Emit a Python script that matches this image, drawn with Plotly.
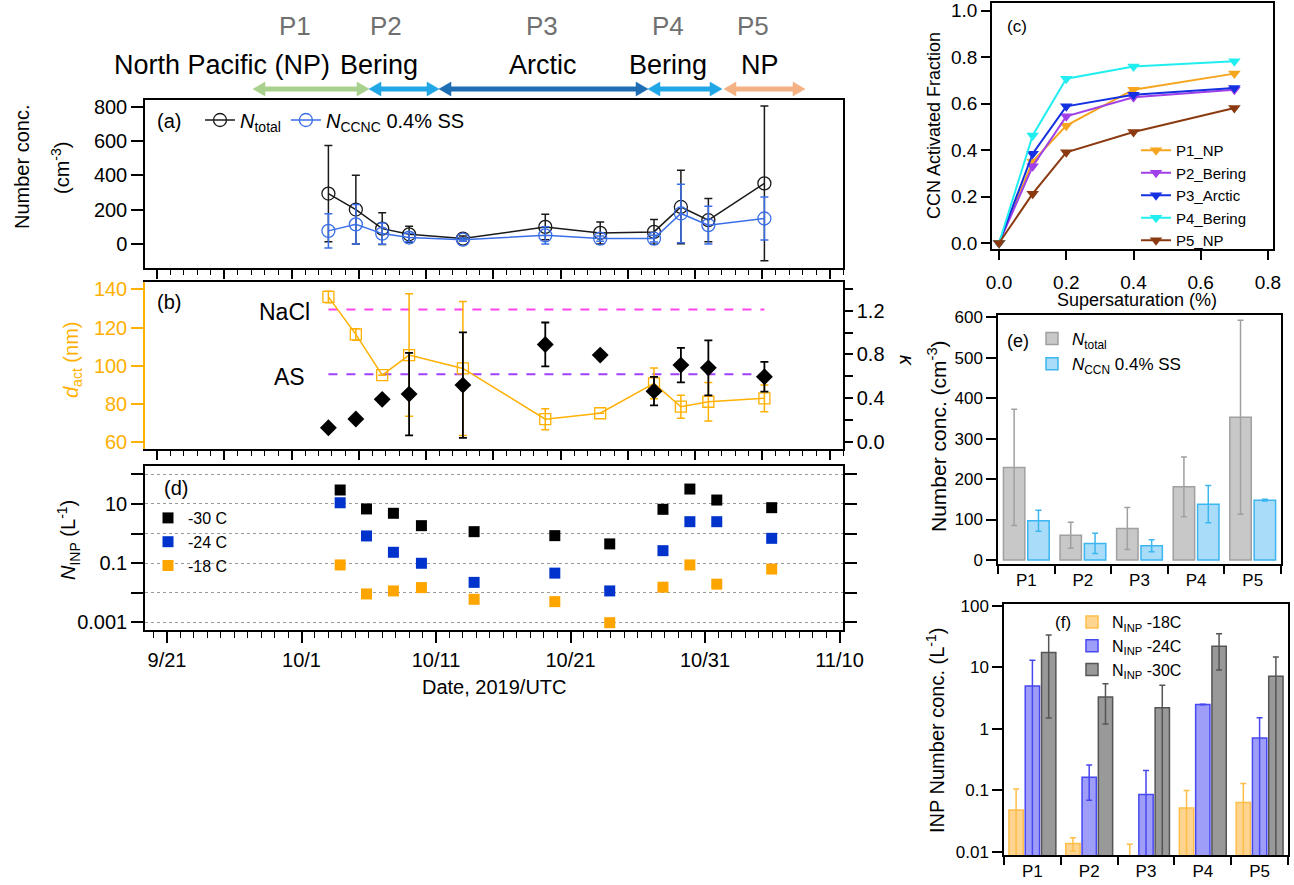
import plotly.graph_objects as go
import pandas as pd

# ---------------- data ----------------
# panels (a) and (b): sampling dates
dates_ab = ["2019-10-03 00:00", "2019-10-05 01:00", "2019-10-07 00:00", "2019-10-09 00:00",
            "2019-10-13 00:00", "2019-10-19 03:00", "2019-10-23 05:00", "2019-10-27 05:00",
            "2019-10-29 05:00", "2019-10-31 06:00", "2019-11-04 10:00"]
n_total = [295, 202, 91, 58, 33, 101, 66, 72, 217, 140, 354]
n_total_err = [280, 200, 92, 47, 15, 74, 64, 72, 214, 126, 450]
n_ccnc = [78, 116, 62, 39, 27, 52, 33, 33, 179, 111, 150]
n_ccnc_err = [100, 115, 62, 25, 10, 50, 15, 20, 170, 110, 125]

d_act = [136.0, 116.4, 95.1, 105.6, 98.6, 72.1, 75.2, 90.8, 78.6, 81.2, 83.0]
d_act_err = [3, 3, None, 32, 35, 5.5, None, 8, 6, 10, 7]
kappa = [0.133, 0.212, 0.391, 0.439, 0.521, 0.891, 0.794, 0.466, 0.703, 0.678, 0.597]
kappa_err = [None, None, None, 0.375, 0.48, 0.2, None, 0.13, 0.157, 0.25, 0.135]
ref_labels = ["NaCl", "AS"]
ref_dact = [129.4, 95.6]

# panel (d)
dates_inp = ["2019-10-03 21:00", "2019-10-05 20:00", "2019-10-07 20:00", "2019-10-09 22:00",
             "2019-10-13 20:00", "2019-10-19 20:00", "2019-10-23 22:00", "2019-10-27 21:00",
             "2019-10-29 21:00", "2019-10-31 21:00", "2019-11-04 23:00"]
inp_m30 = [29.7, 6.8, 4.85, 1.85, 1.16, 0.85, 0.447, 6.6, 32, 13.6, 7.5]
inp_m24 = [11, 0.83, 0.233, 0.099, 0.0224, 0.046, 0.0115, 0.264, 2.52, 2.52, 0.69]
inp_m18 = [0.087, 0.0091, 0.0115, 0.0149, 0.006, 0.005, 0.00097, 0.0154, 0.087, 0.0195, 0.063]
date_tick_labels = ["9/21", "10/1", "10/11", "10/21", "10/31", "11/10"]
inp_tick_labels = ["0.001", "0.1", "10"]

# panel (c)
supersat = [0, 0.1, 0.2, 0.4, 0.7]
ccn_names = ["P1_NP", "P2_Bering", "P3_Arctic", "P4_Bering", "P5_NP"]
ccn_p1 = [0, 0.35, 0.505, 0.66, 0.729]
ccn_p2 = [0, 0.33, 0.545, 0.627, 0.66]
ccn_p3 = [0, 0.384, 0.588, 0.638, 0.667]
ccn_p4 = [0, 0.463, 0.707, 0.76, 0.782]
ccn_p5 = [0, 0.212, 0.39, 0.478, 0.581]

# panel (e)
periods = ["P1", "P2", "P3", "P4", "P5"]
ntot_mean = [229, 61, 78, 181, 353]
ntot_sd = [144, 32, 52, 74, 240]
nccn_mean = [97, 41, 35, 138, 148]
nccn_sd = [26, 25, 15, 46, 2]

# panel (f)
inp18_mean = [0.048, 0.0137, 0.008, 0.052, 0.0635]
inp18_sd = [0.057, 0.0033, 0.0053, 0.048, 0.0665]
inp24_mean = [5.0, 0.164, 0.086, 2.49, 0.71]
inp24_sd = [8.0, 0.095, 0.125, 0.03, 0.8]
inp30_mean = [17.5, 3.3, 2.2, 22.1, 7.2]
inp30_sd = [16, 2.1, 2.9, 13, 7.5]

# header
period_labels = ["P1", "P2", "P3", "P4", "P5"]
region_labels = ["North Pacific (NP)", "Bering", "Arctic", "Bering", "NP"]

# ---------------- layout helpers ----------------
W, H = 1294, 885
def fx(p):
    return p / W
def fy(p):
    return 1 - p / H

FONT = "Liberation Sans, Arial, sans-serif"
ORANGE = "#FFB000"

t0 = pd.Timestamp("2019-09-21")
DAY_PX = 13.45
x_left = t0 + pd.Timedelta(days=(145 - 167) / DAY_PX)
x_right = t0 + pd.Timedelta(days=(843 - 167) / DAY_PX)
xr = [x_left.strftime("%Y-%m-%d %H:%M:%S"), x_right.strftime("%Y-%m-%d %H:%M:%S")]
tick0_ab = (t0 - pd.Timedelta(days=0.74)).strftime("%Y-%m-%d %H:%M:%S")
DAY_MS = 86400000

fig = go.Figure()

# ---------------- (a) ----------------
fig.add_trace(go.Scatter(
    x=dates_ab, y=n_total, mode="lines+markers", name="<i>N</i><sub>total</sub>",
    line=dict(color="#1a1a1a", width=1.5),
    marker=dict(symbol="circle-open", size=13, color="#1a1a1a", line=dict(width=1.3)),
    error_y=dict(type="data", array=n_total_err, color="#1a1a1a", thickness=1.5, width=4),
    xaxis="x", yaxis="y", legend="legend"))
fig.add_trace(go.Scatter(
    x=dates_ab, y=n_ccnc, mode="lines+markers", name="<i>N</i><sub>CCNC</sub> 0.4% SS",
    line=dict(color="#3a6ee8", width=1.5),
    marker=dict(symbol="circle-open", size=13, color="#3a6ee8", line=dict(width=1.3)),
    error_y=dict(type="data", array=n_ccnc_err, color="#3a6ee8", thickness=1.5, width=4),
    xaxis="x", yaxis="y", legend="legend"))

# ---------------- (b) ----------------
ref_colors = ["#FF44EE", "#A040FF"]
for lab, val, col in zip(ref_labels, ref_dact, ref_colors):
    fig.add_trace(go.Scatter(
        x=[dates_ab[0], dates_ab[-1]], y=[val, val], mode="lines",
        line=dict(color=col, width=2, dash="dash"), showlegend=False,
        xaxis="x2", yaxis="y2"))
fig.add_trace(go.Scatter(
    x=dates_ab, y=d_act, mode="lines+markers", showlegend=False,
    line=dict(color=ORANGE, width=1.5),
    marker=dict(symbol="square-open", size=11, color=ORANGE, line=dict(width=1.3)),
    error_y=dict(type="data", array=d_act_err, color=ORANGE, thickness=1.5, width=4),
    xaxis="x2", yaxis="y2"))
fig.add_trace(go.Scatter(
    x=dates_ab, y=kappa, mode="markers", showlegend=False,
    marker=dict(symbol="diamond", size=13, color="black"),
    error_y=dict(type="data", array=kappa_err, color="black", thickness=1.8, width=4),
    xaxis="x2", yaxis="y3"))

# ---------------- (d) ----------------
for name, vals, col in [("-30 C", inp_m30, "#000000"), ("-24 C", inp_m24, "#0033CC"),
                        ("-18 C", inp_m18, "#FFA500")]:
    fig.add_trace(go.Scatter(
        x=dates_inp, y=vals, mode="markers", name=name,
        marker=dict(symbol="square", size=11, color=col),
        xaxis="x3", yaxis="y4", legend="legend3"))

# ---------------- (c) ----------------
ccn_colors = ["#F5A51E", "#A040E8", "#1530E0", "#22EEF0", "#8B3A10"]
for name, vals, col in zip(ccn_names, [ccn_p1, ccn_p2, ccn_p3, ccn_p4, ccn_p5], ccn_colors):
    fig.add_trace(go.Scatter(
        x=supersat, y=vals, mode="lines+markers", name=name,
        line=dict(color=col, width=2),
        marker=dict(symbol="triangle-down", size=11, color=col),
        xaxis="x4", yaxis="y5", legend="legend2"))

# ---------------- (e) ----------------
fig.add_trace(go.Bar(
    x=periods, y=ntot_mean, name="<i>N</i><sub>total</sub>",
    marker=dict(color="#C8C8C8", line=dict(color="#A0A0A0", width=1.5)),
    error_y=dict(type="data", array=ntot_sd, color="#A0A0A0", thickness=1.5, width=3),
    xaxis="x5", yaxis="y6", legend="legend4"))
fig.add_trace(go.Bar(
    x=periods, y=nccn_mean, name="<i>N</i><sub>CCN</sub> 0.4% SS",
    marker=dict(color="#A8DCF8", line=dict(color="#3CB6F0", width=1.5)),
    error_y=dict(type="data", array=nccn_sd, color="#3CB6F0", thickness=1.5, width=3),
    xaxis="x5", yaxis="y6", legend="legend4"))

# ---------------- (f) ----------------
for name, vals, err, fill, edge in [
        ("N<sub>INP</sub> -18C", inp18_mean, inp18_sd, "#FDD590", "#FFBE4A"),
        ("N<sub>INP</sub> -24C", inp24_mean, inp24_sd, "#9E9EF8", "#4848F0"),
        ("N<sub>INP</sub> -30C", inp30_mean, inp30_sd, "#999999", "#555555")]:
    fig.add_trace(go.Bar(
        x=periods, y=vals, name=name,
        marker=dict(color=fill, line=dict(color=edge, width=1.5)),
        error_y=dict(type="data", array=err, color=edge, thickness=1.5, width=3),
        xaxis="x6", yaxis="y7", legend="legend5"))

# ---------------- axes ----------------
base = dict(showline=True, linecolor="black", linewidth=1.5, ticks="outside",
            tickcolor="black", tickwidth=1.5, showgrid=False, zeroline=False,
            tickfont=dict(size=20, color="black", family=FONT))
left_dom = [fx(145), fx(843)]

def date_ab(anchor):
    d = dict(base)
    d.update(domain=left_dom, anchor=anchor, type="date", range=xr, showticklabels=False,
             tick0=tick0_ab, dtick=5 * DAY_MS, ticklen=9, mirror=True,
             minor=dict(ticks="outside", ticklen=5, dtick=DAY_MS, tick0=tick0_ab,
                        tickcolor="black", tickwidth=1.2))
    return d

xa = date_ab("y")
ya = dict(base)
ya.update(domain=[fy(268), fy(100)], anchor="x", range=[-138, 839],
          tickvals=[0, 200, 400, 600, 800], ticklen=12, mirror=True)

xb = date_ab("y2")
yb = dict(base)
yb.update(domain=[fy(449), fy(282)], anchor="x2", range=[56.5, 143.8],
          tickvals=[60, 80, 100, 120, 140], ticklen=12, linecolor=ORANGE, tickcolor=ORANGE,
          tickfont=dict(size=20, color=ORANGE, family=FONT))
yk = dict(base)
yk.update(overlaying="y2", side="right", anchor="x2", range=[-0.061, 1.46],
          tickvals=[0, 0.4, 0.8, 1.2], tickformat=".1f", ticklen=8,
          minor=dict(tickmode="array", tickvals=[0.2, 0.6, 1.0, 1.4], ticks="outside",
                     ticklen=8, tickcolor="black", tickwidth=1.5))

xd = dict(base)
date_tick_vals = [(t0 + pd.Timedelta(days=10 * i)).strftime("%Y-%m-%d") for i in range(len(date_tick_labels))]
xd.update(domain=left_dom, anchor="y4", type="date", range=xr, tickmode="array",
          tickvals=date_tick_vals, ticktext=date_tick_labels, ticklen=11, mirror=True,
          minor=dict(ticks="outside", ticklen=6, dtick=DAY_MS, tick0="2019-09-21",
                     tickcolor="black", tickwidth=1.2))
yd = dict(base)
yd.update(domain=[fy(630), fy(466)], anchor="x3", type="log", range=[-3.26, 2.284],
          tickmode="array", tickvals=[0.001, 0.1, 10], ticktext=inp_tick_labels,
          ticklen=12, mirror="ticks",
          showgrid=True, griddash="dot", gridcolor="#9a9a9a", gridwidth=1,
          minor=dict(tickmode="array", tickvals=[0.01, 1, 100], ticks="outside", ticklen=12,
                     tickcolor="black", tickwidth=1.5, showgrid=True, griddash="dot",
                     gridcolor="#9a9a9a", gridwidth=1))

right_font = dict(size=19, color="black", family=FONT)
xc = dict(base)
xc.update(domain=[fx(992), fx(1273)], anchor="y5", range=[-0.021, 0.815],
          tickvals=[0, 0.2, 0.4, 0.6, 0.8], tickformat=".1f", ticklen=9, mirror=True,
          tickfont=right_font, ticklabelstandoff=6)
yc = dict(base)
yc.update(domain=[fy(249), fy(3)], anchor="x4", range=[-0.026, 1.033],
          tickvals=[0, 0.2, 0.4, 0.6, 0.8, 1.0], tickformat=".1f", ticklen=9, mirror=True,
          tickfont=right_font)

small_font = dict(size=17, color="black", family=FONT)
xe = dict(base)
xe.update(domain=[fx(998), fx(1281)], anchor="y6", type="category", tickson="boundaries",
          ticklen=8, mirror=True, tickfont=small_font)
ye = dict(base)
ye.update(domain=[fy(564), fy(315)], anchor="x5", range=[-10, 606], dtick=100,
          ticklen=10, mirror=True, tickfont=small_font)

xf = dict(base)
xf.update(domain=[fx(1004), fx(1288)], anchor="y7", type="category", tickson="boundaries",
          ticklen=8, mirror=True, tickfont=small_font)
yf = dict(base)
yf.update(domain=[fy(855), fy(604)], anchor="x6", type="log", range=[-2.05, 2.03],
          tickmode="array", tickvals=[0.01, 0.1, 1, 10, 100],
          ticktext=["0.01", "0.1", "1", "10", "100"], ticklen=10, mirror=True,
          tickfont=small_font)

def leg(x, y, size, orient="v", xanchor="left", yanchor="top"):
    return dict(x=fx(x), y=fy(y), xanchor=xanchor, yanchor=yanchor, orientation=orient,
                bgcolor="rgba(0,0,0,0)", borderwidth=0,
                font=dict(size=size, color="black", family=FONT))

fig.update_layout(
    width=W, height=H, margin=dict(l=0, r=0, t=0, b=0, autoexpand=False),
    paper_bgcolor="white", plot_bgcolor="white",
    font=dict(family=FONT, color="black"),
    barmode="group", bargap=0.14, bargroupgap=0.12,
    xaxis=xa, yaxis=ya, xaxis2=xb, yaxis2=yb, yaxis3=yk,
    xaxis3=xd, yaxis4=yd, xaxis4=xc, yaxis5=yc, xaxis5=xe, yaxis6=ye,
    xaxis6=xf, yaxis7=yf,
    legend=leg(200, 120, 20, orient="h", yanchor="middle"),
    legend2=leg(1136, 134, 15),
    legend3=leg(148, 501, 16),
    legend4=leg(1032, 321, 17),
    legend5=leg(1072, 605, 16),
)

# ---------------- annotations ----------------
def txt(x, y, s, size=20, color="black", angle=0, xanchor="center"):
    fig.add_annotation(xref="paper", yref="paper", x=fx(x), y=fy(y), text=s,
                       showarrow=False, xanchor=xanchor, yanchor="middle", textangle=angle,
                       font=dict(size=size, color=color, family=FONT))

# header
for lab, xc_ in zip(period_labels, [295, 386, 542, 668, 753]):
    txt(xc_, 26, lab, size=26, color="#707070")
for lab, xc_ in zip(region_labels, [222, 379, 543, 668, 760]):
    txt(xc_, 65, lab, size=27)

# header double arrows drawn as shapes
arrows = [(253, 369, "#A9D18E"), (369, 439, "#22A7E6"), (439, 648, "#1F6EB4"),
          (648, 722, "#22A7E6"), (724, 805, "#F4B183")]
AY, HL, HW = 89, 12, 7
for x0, x1, col in arrows:
    fig.add_shape(type="line", xref="paper", yref="paper",
                  x0=fx(x0 + HL - 1), x1=fx(x1 - HL + 1), y0=fy(AY), y1=fy(AY),
                  line=dict(color=col, width=5))
    for tip, back in [(x1, x1 - HL), (x0, x0 + HL)]:
        path = "M {:.5f} {:.5f} L {:.5f} {:.5f} L {:.5f} {:.5f} Z".format(
            fx(tip), fy(AY), fx(back), fy(AY - HW), fx(back), fy(AY + HW))
        fig.add_shape(type="path", xref="paper", yref="paper", path=path,
                      fillcolor=col, line=dict(color=col, width=0.5))

# panel labels
txt(169, 121, "(a)", size=20)
txt(169, 302, "(b)", size=20)
txt(176, 488, "(d)", size=20)
txt(1017, 27, "(c)", size=17)
txt(1018, 341, "(e)", size=18)
txt(1063, 622, "(f)", size=17)

# NaCl / AS labels
txt(284, 312, ref_labels[0], size=23)
txt(289, 377, ref_labels[1], size=23)

# axis titles
txt(22, 167, "Number conc.", size=20, angle=-90)
txt(60, 168, "(cm<sup>-3</sup>)", size=20, angle=-90)
txt(72, 360, "<i>d</i><sub>act</sub> (nm)", size=20, color=ORANGE, angle=-90)
txt(907, 360, "<i>κ</i>", size=20, angle=90)
txt(68, 540, "<i>N</i><sub>INP</sub> (L<sup>-1</sup>)", size=20, angle=-90)
txt(494, 687, "Date, 2019/UTC", size=20)
txt(934, 126, "CCN Activated Fraction", size=18, angle=-90)
txt(1137, 300, "Supersaturation (%)", size=18)
txt(937, 436, "Number conc. (cm<sup>-3</sup>)", size=21, angle=-90)
txt(935, 730, "INP Number conc. (L<sup>-1</sup>)", size=20, angle=-90)

fig.write_html("out.html", config={"displayModeBar": False},
               post_script="document.body.style.margin='0';document.body.style.overflow='hidden';")
